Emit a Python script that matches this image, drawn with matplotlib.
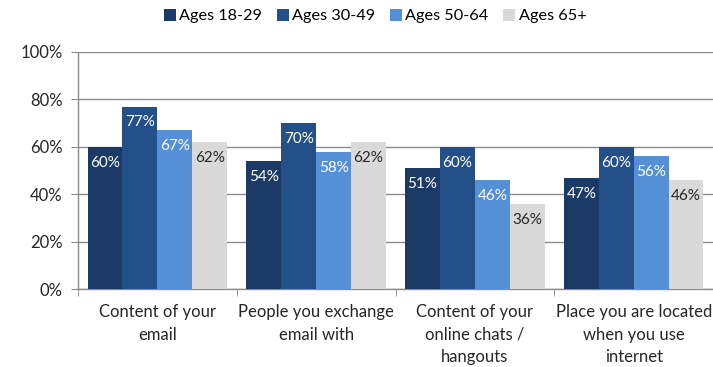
import matplotlib
matplotlib.use("Agg")
import matplotlib.pyplot as plt
import numpy as np

plt.rcParams['font.family'] = ['Lato', 'DejaVu Sans']

categories = ["Content of your\nemail", "People you exchange\nemail with",
              "Content of your\nonline chats /\nhangouts", "Place you are located\nwhen you use\ninternet"]
series_names = ["Ages 18-29", "Ages 30-49", "Ages 50-64", "Ages 65+"]
ages_18_29 = [60, 54, 51, 47]
ages_30_49 = [77, 70, 60, 60]
ages_50_64 = [67, 58, 46, 56]
ages_65_plus = [62, 62, 36, 46]
y_ticks = [0, 20, 40, 60, 80, 100]

series = [ages_18_29, ages_30_49, ages_50_64, ages_65_plus]
colors = ["#1B3A66", "#24508A", "#5590D6", "#D9D9D9"]
label_colors = ["white", "white", "white", "#262626"]

fig = plt.figure(figsize=(7.13, 3.67), dpi=100)
ax = fig.add_axes([78/713, 1 - 289/367, 1 - 78/713, (289 - 52)/367])

x = np.arange(len(categories))
width = 0.22
offsets = (np.arange(4) - 1.5) * width

for vals, off, col, lc, name in zip(series, offsets, colors, label_colors, series_names):
    bars = ax.bar(x + off, vals, width, color=col, label=name, zorder=3)
    for b, v in zip(bars, vals):
        ax.annotate(f"{v}%", (b.get_x() + b.get_width() / 2, v),
                    xytext=(0, -11.5), textcoords="offset points",
                    ha="center", va="center", fontsize=11, color=lc, zorder=4)

ax.set_xlim(-0.5, len(categories) - 0.5)
ax.set_ylim(0, 100)
ax.set_yticks(y_ticks)
ax.set_yticklabels([f"{t}%" for t in y_ticks], fontsize=12, color="#262626")
ax.yaxis.grid(True, color="#8C8C8C", linewidth=1, zorder=0)
ax.tick_params(axis="y", length=5, color="#8C8C8C", pad=6)

ax.set_xticks(x)
ax.set_xticklabels(categories, fontsize=12, color="#262626", linespacing=1.48)
ax.tick_params(axis="x", which="major", length=0, pad=11)
ax.set_xticks(np.arange(len(categories) + 1) - 0.5, minor=True)
ax.tick_params(axis="x", which="minor", length=5, color="#8C8C8C")

for s in ["top", "right"]:
    ax.spines[s].set_visible(False)
for s in ["left", "bottom"]:
    ax.spines[s].set_color("#8C8C8C")
    ax.spines[s].set_linewidth(1)

fig.legend(loc="center", bbox_to_anchor=(375/713, 1 - 16/367), ncol=4, frameon=False,
           fontsize=11.7, handlelength=0.75, handleheight=0.75, handletextpad=0.2,
           columnspacing=0.9)

fig.savefig("out.png", dpi=100)
